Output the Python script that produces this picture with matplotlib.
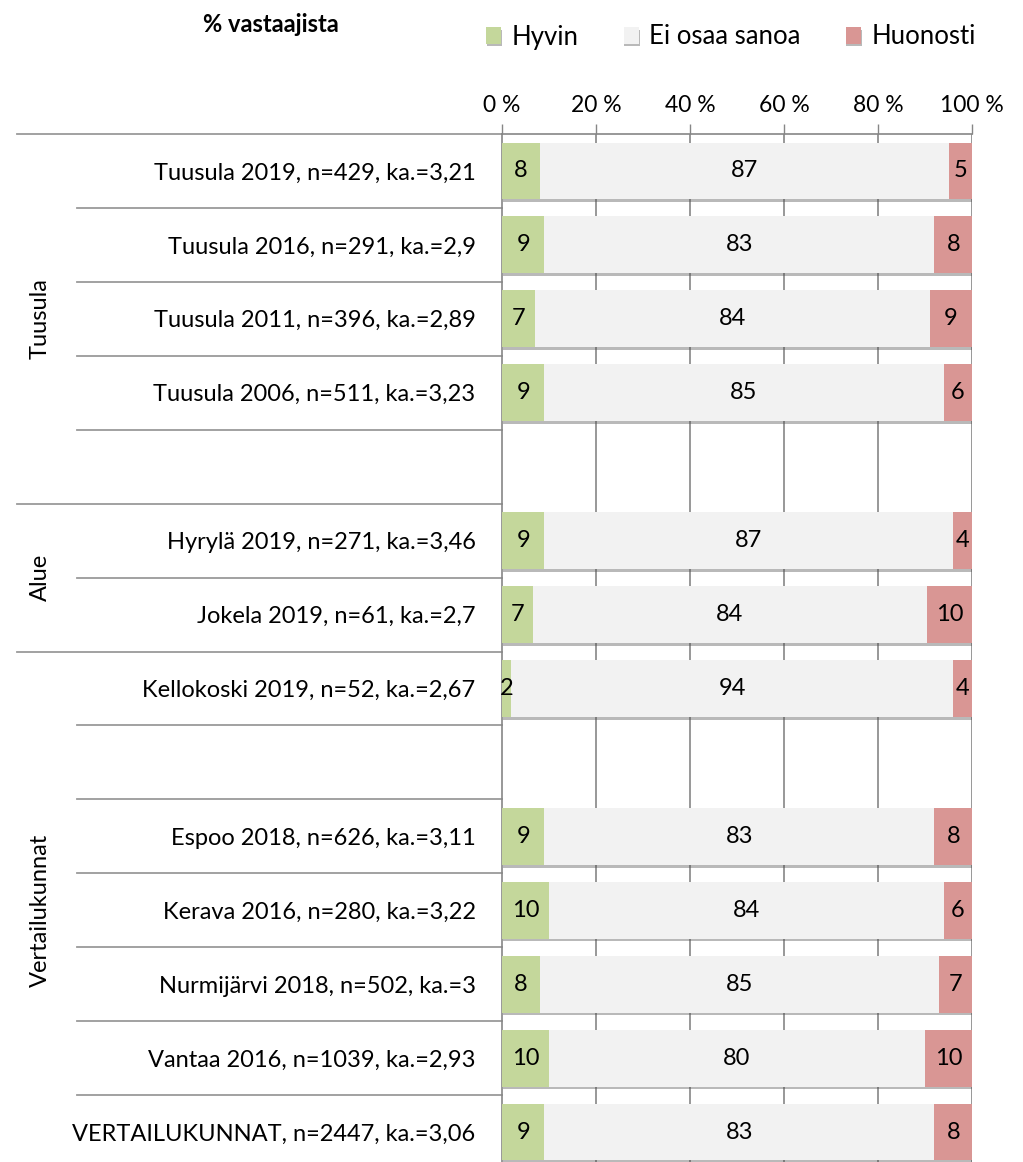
import matplotlib
matplotlib.use("Agg")
import matplotlib.pyplot as plt
import matplotlib.patheffects as pe
import numpy as np

plt.rcParams['font.family'] = ['Lato', 'DejaVu Sans']

categories = [
    "Tuusula 2019, n=429, ka.=3,21",
    "Tuusula 2016, n=291, ka.=2,9",
    "Tuusula 2011, n=396, ka.=2,89",
    "Tuusula 2006, n=511, ka.=3,23",
    "",
    "Hyrylä 2019, n=271, ka.=3,46",
    "Jokela 2019, n=61, ka.=2,7",
    "Kellokoski 2019, n=52, ka.=2,67",
    "",
    "Espoo 2018, n=626, ka.=3,11",
    "Kerava 2016, n=280, ka.=3,22",
    "Nurmijärvi 2018, n=502, ka.=3",
    "Vantaa 2016, n=1039, ka.=2,93",
    "VERTAILUKUNNAT, n=2447, ka.=3,06",
]
hyvin    = [8, 9, 7, 9, None, 9, 6.6, 2, None, 9, 10, 8, 10, 9]
ei_osaa  = [87, 83, 84, 85, None, 87, 83.8, 94, None, 83, 84, 85, 80, 83]
huonosti = [5, 8, 9, 6, None, 4, 9.6, 4, None, 8, 6, 7, 10, 8]
series_names = ["Hyvin", "Ei osaa sanoa", "Huonosti"]
colors = ["#c4d79b", "#f2f2f2", "#d99694"]
groups = [("Tuusula", 0, 4), ("Alue", 5, 6), ("Vertailukunnat", 7, 13)]
group_starts = [0, 5, 7]
xticks = [0, 20, 40, 60, 80, 100]

W, H = 1023, 1162
fig = plt.figure(figsize=(W / 100, H / 100), dpi=100)
ax_left, ax_right, ax_top, ax_bot = 502, 972, 134, 1169
ax = fig.add_axes([ax_left / W, 1 - ax_bot / H, (ax_right - ax_left) / W, (ax_bot - ax_top) / H])

n = len(categories)
valid = [i for i in range(n) if hyvin[i] is not None]
yv = np.array(valid)
data = [np.array([s[i] for i in valid], dtype=float) for s in (hyvin, ei_osaa, huonosti)]

left = np.zeros(len(valid))
shadow = [pe.SimplePatchShadow(offset=(0.5, -2.0), shadow_rgbFace="#505050", alpha=0.4), pe.Normal()]
for vals, col, name in zip(data, colors, series_names):
    bars = ax.barh(yv, vals, left=left, height=0.77, color=col, label=name, zorder=3)
    for b in bars:
        b.set_path_effects(shadow)
    for yy, l, v in zip(yv, left, vals):
        ax.text(l + v / 2, yy, f"{v:.0f}", ha="center", va="center", fontsize=17, color="#000000", zorder=5)
    left = left + vals

ax.set_xlim(0, 100)
ax.set_ylim(n - 0.5, -0.5)
ax.xaxis.tick_top()
ax.set_xticks(xticks)
ax.set_xticklabels([f"{t} %" for t in xticks], fontsize=16.5)
ax.tick_params(axis="x", direction="out", length=7, width=1, color="#868686", pad=6)
ax.set_yticks(yv)
ax.set_yticklabels([categories[i] for i in valid], fontsize=17)
ax.tick_params(axis="y", length=0, pad=19)
for t in xticks[1:]:
    ax.axvline(t, color="#868686", lw=1.2, zorder=1)
for s in ["right", "bottom"]:
    ax.spines[s].set_visible(False)
for s in ["left", "top"]:
    ax.spines[s].set_color("#868686")
    ax.spines[s].set_linewidth(1.2)

# separators in the category area
trans = ax.get_yaxis_transform()
x_full = (17 - ax_left) / (ax_right - ax_left)
x_short = (77 - ax_left) / (ax_right - ax_left)
for k in range(n):
    xs = x_full if k in group_starts else x_short
    ax.plot([xs, 0], [k - 0.5, k - 0.5], transform=trans, color="#9a9a9a", lw=1.3, clip_on=False, zorder=2)

x_group = (40 - ax_left) / (ax_right - ax_left)
for name, a, b in groups:
    ax.text(x_group, (a + b) / 2, name, transform=trans, rotation=90, ha="center", va="center", fontsize=17)

fig.text(271 / W, 1 - 25 / H, "% vastaajista", ha="center", va="center", fontsize=17, fontweight="bold")

leg = ax.legend(loc="center left", bbox_to_anchor=((486 - ax_left) / (ax_right - ax_left), (ax_bot - 37) / (ax_bot - ax_top)),
                ncol=3, frameon=False, fontsize=18.5, handlelength=0.6, handleheight=0.6, handletextpad=0.4,
                columnspacing=1.75, borderaxespad=0, borderpad=0)

fig.savefig("out.png", dpi=100, facecolor="white")
